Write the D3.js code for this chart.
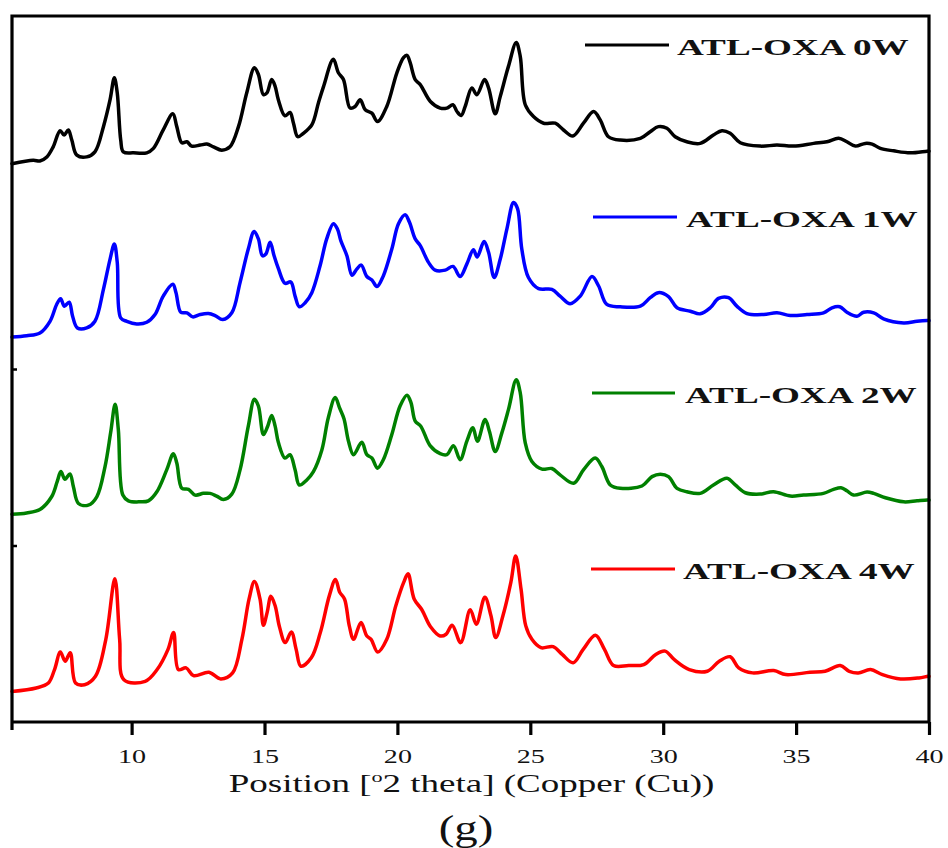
<!DOCTYPE html>
<html>
<head>
<meta charset="utf-8">
<script src="https://cdn.jsdelivr.net/npm/d3@7"></script>
<style>
  html, body { margin: 0; padding: 0; background: #fff; }
  svg { display: block; }
</style>
</head>
<body>
<svg id="chart" width="948" height="848"></svg>
<script>
// XRD patterns of ATL-OXA stored for 0, 1, 2 and 4 weeks: [2θ (deg), intensity (a.u.)]
const pattern0W = [[5.5,1.5],[6.3,5],[6.55,4.3],[6.81,8.3],[7.05,18.3],[7.31,34.3],[7.46,30],[7.62,35],[7.75,25],[7.94,10],[8.31,8.3],[8.62,13.3],[8.94,38.3],[9.19,65],[9.35,86.7],[9.46,71.7],[9.59,25],[9.69,13.3],[10.07,12.3],[10.57,12.3],[10.82,16.7],[11.19,35],[11.55,51],[11.7,38.3],[11.89,22.3],[12.08,23.3],[12.26,19],[12.58,20],[12.83,21],[13.08,18.3],[13.39,15],[13.7,18.3],[14.02,38.3],[14.33,71.7],[14.62,96.7],[14.77,90],[14.96,70],[15.09,71.7],[15.27,85],[15.4,78.3],[15.52,65],[15.77,49],[15.96,52.3],[16.09,41.7],[16.25,28.3],[16.46,31.7],[16.78,40],[17.03,62],[17.22,78],[17.59,105],[17.78,91.7],[17.97,85],[18.22,56.7],[18.41,58.3],[18.6,65],[18.79,55],[19.04,51.7],[19.25,43.3],[19.6,58.3],[19.98,91.7],[20.23,106.7],[20.36,109],[20.48,101.7],[20.67,85],[20.86,80],[21.24,63.3],[21.61,56.7],[21.86,56.7],[22.09,60],[22.24,53.3],[22.4,49.3],[22.55,58.3],[22.8,76.7],[22.99,70],[23.28,85],[23.43,76.7],[23.68,51],[23.87,68.3],[24.18,98.3],[24.47,121.7],[24.62,108.3],[24.81,60],[25.12,48.3],[25.5,41.7],[25.94,41.7],[26.25,35],[26.6,29],[27.0,41.7],[27.38,53.3],[27.63,45],[27.94,28.3],[28.38,25],[29.14,26.7],[29.51,33.3],[29.82,38.3],[30.14,36.7],[30.45,28.3],[30.89,23.3],[31.39,21.7],[31.89,30],[32.21,34.3],[32.52,31.7],[32.9,22.3],[33.65,19],[34.28,20],[34.9,19],[35.66,21.7],[36.16,23.3],[36.6,26.7],[36.91,23.3],[37.23,19],[37.6,21.7],[37.86,21],[38.17,16.7],[38.67,14.3],[39.3,12.3],[39.93,14],[40,14]];

const pattern1W = [[5.5,2.7],[6.05,4],[6.55,6.7],[6.93,18.3],[7.18,35],[7.33,40.7],[7.47,33.3],[7.65,37.3],[7.78,23.3],[7.96,11.7],[8.31,11.7],[8.62,18.3],[8.94,50],[9.19,80],[9.35,95],[9.46,76.7],[9.59,21.7],[9.82,18.3],[10.19,15.7],[10.57,17.3],[10.88,25],[11.19,43.3],[11.55,55],[11.67,46.7],[11.85,27.3],[12.08,26.7],[12.3,22.7],[12.58,25],[12.89,26],[13.14,24],[13.43,20],[13.77,26.7],[14.08,56.7],[14.39,90],[14.61,107.3],[14.77,100],[14.92,83.3],[15.05,85],[15.21,96.7],[15.36,83.3],[15.52,70.7],[15.77,56],[15.99,57.3],[16.15,43.3],[16.31,32.7],[16.53,36.7],[16.78,46.7],[17.09,73.3],[17.34,100],[17.59,115],[17.74,110],[17.87,98.3],[18.1,83.3],[18.29,64],[18.47,70],[18.64,74],[18.85,62.7],[19.04,59.3],[19.23,52.7],[19.47,63.3],[19.79,90],[20.04,115],[20.29,124],[20.45,116.7],[20.67,100],[20.86,93.3],[21.17,76.7],[21.42,69],[21.8,69],[22.09,72.7],[22.36,62.7],[22.61,75],[22.86,89.3],[23.0,82],[23.26,97.3],[23.43,86.7],[23.64,61.7],[23.87,80],[24.12,110],[24.37,136],[24.52,130],[24.68,90],[24.93,61.7],[25.31,50.7],[25.81,50],[26.12,43.3],[26.5,35.7],[26.88,43.3],[27.32,62.7],[27.57,53.3],[27.88,35],[28.38,32.7],[29.14,33.3],[29.51,41.7],[29.82,46.7],[30.2,42.7],[30.52,31.7],[31.02,28.3],[31.39,25.7],[31.77,31.7],[32.08,41],[32.46,41.7],[32.77,33.3],[33.15,26],[33.78,25],[34.28,26.7],[34.78,24],[35.41,25],[36.03,26.7],[36.35,31.7],[36.64,32.7],[36.91,27.3],[37.29,23.3],[37.54,27.3],[37.92,26.7],[38.29,20.7],[39.05,16.7],[39.55,18.3],[39.93,19],[40,19]];

const pattern2W = [[5.5,2],[6.05,3.3],[6.55,6.7],[6.99,19.3],[7.2,34.3],[7.34,44.3],[7.49,36.7],[7.68,42],[7.81,29.3],[8.0,12.7],[8.37,11],[8.69,19.3],[9.0,49.3],[9.21,82.7],[9.38,111],[9.5,86],[9.67,21],[9.88,15.3],[10.32,14.3],[10.63,15.3],[10.95,24.3],[11.32,46],[11.57,62],[11.7,52.7],[11.89,27.7],[12.14,26.7],[12.39,21],[12.7,22.7],[12.95,22.7],[13.2,20],[13.45,16.7],[13.77,22],[14.08,46],[14.39,89.3],[14.62,116],[14.77,109.3],[14.96,81],[15.12,89.3],[15.27,100],[15.4,89.3],[15.52,73.3],[15.77,57.7],[15.96,61],[16.15,46],[16.31,31],[16.59,36],[16.84,44.3],[17.16,66],[17.4,97.7],[17.66,117.7],[17.82,107.7],[17.99,96.7],[18.16,74.3],[18.35,61],[18.66,73.3],[18.85,61],[19.04,57.7],[19.25,47.7],[19.47,56],[19.79,81],[20.1,109.3],[20.36,120],[20.51,112.7],[20.67,94.3],[20.88,89.3],[21.23,70],[21.61,62],[21.86,61],[22.11,70],[22.36,56],[22.61,74.3],[22.84,87.7],[23.01,74.3],[23.3,96],[23.46,84.3],[23.68,64.3],[23.93,82.7],[24.18,106],[24.47,135.3],[24.62,122.7],[24.81,72.7],[25.06,54.3],[25.44,46.7],[25.81,47.3],[26.12,41],[26.63,32.7],[27.0,46],[27.44,57.7],[27.69,49.3],[28.01,31],[28.38,27.7],[29.2,30],[29.58,39.3],[29.89,41.7],[30.2,39.3],[30.52,27.7],[30.89,24.3],[31.39,22.7],[31.89,31],[32.4,37.7],[32.71,31],[33.09,23.3],[33.65,22],[34.15,24.3],[34.78,20],[35.28,21],[36.03,22.7],[36.41,26.7],[36.69,28.3],[36.91,25.3],[37.16,21],[37.67,24],[37.92,22.7],[38.36,18.3],[39.05,14.3],[39.55,15.3],[39.93,16],[40,16]];

const pattern4W = [[5.5,1.3],[6.41,4.7],[6.87,9.7],[7.1,23],[7.32,40.3],[7.5,31.3],[7.69,39.7],[7.89,9.7],[8.23,8],[8.64,16.3],[9.03,53],[9.37,113],[9.55,53],[9.71,13],[10.51,11.3],[10.96,23],[11.37,43],[11.58,59.7],[11.76,23],[12.05,24.7],[12.33,17],[12.91,20.3],[13.35,13.7],[13.8,19.7],[14.15,53],[14.42,93],[14.62,110.3],[14.83,93],[14.96,67],[15.1,79.7],[15.24,95.7],[15.4,86.3],[15.56,65.7],[15.78,49.7],[16.01,60.3],[16.19,43],[16.37,26.3],[16.76,34.7],[17.1,59.7],[17.44,96.3],[17.67,112.3],[17.83,99.7],[18.01,93],[18.19,66.3],[18.35,53],[18.63,69.7],[18.85,56.3],[19.01,53],[19.26,40.3],[19.6,53],[19.94,86.3],[20.24,109.7],[20.4,118],[20.63,93],[20.92,82.3],[21.24,65.7],[21.61,56.3],[21.83,58],[22.06,67],[22.38,49.7],[22.74,82.3],[22.97,68],[23.29,94.7],[23.52,76.3],[23.7,54.7],[23.97,76.3],[24.27,109.7],[24.45,135.7],[24.65,103],[24.83,66.3],[25.06,53],[25.4,44.7],[25.86,45.7],[26.2,38],[26.61,29.7],[26.99,43],[27.45,57],[27.79,43],[28.13,27],[28.7,27],[29.27,28],[29.72,38],[30.07,41.3],[30.41,33],[30.98,23],[31.66,21.3],[32.11,31.3],[32.52,35.7],[32.84,24.7],[33.36,19.7],[34.16,22],[34.61,18],[35.52,20.3],[36.09,21.3],[36.66,27],[37.0,21.3],[37.34,19.7],[37.8,23],[38.25,18],[38.93,13.7],[39.62,14.7],[39.96,16.3],[40,16.3]];

const seriesNames = ["ATL-OXA 0W", "ATL-OXA 1W", "ATL-OXA 2W", "ATL-OXA 4W"];
const seriesPatterns = [pattern0W, pattern1W, pattern2W, pattern4W];
// vertical stacking offset of each pattern (a.u.)
const seriesOffsets = [552, 379, 204, 29];
const xTicks = [10, 15, 20, 25, 30, 35, 40];

const seriesColors = ["#000000", "#0000ff", "#008000", "#ff0000"];

const svg = d3.select("#chart");
const plot = { left: 12, right: 929, top: 16, bottom: 722 };
const stretch = 1.48;   // wide serif lettering used throughout the figure
const serif = "'Liberation Serif', 'Times New Roman', serif";

const x = d3.scaleLinear().domain([5.5, 40]).range([plot.left, plot.right]);
const y = d3.scaleLinear().domain([0, 700]).range([plot.bottom, plot.top]);

// traces
const line = d3.line()
  .x(d => x(d[0]))
  .y(d => y(d[1]))
  .curve(d3.curveCatmullRom.alpha(0.5));

seriesPatterns.forEach((pat, i) => {
  const shifted = pat.map(d => [d[0], d[1] + seriesOffsets[i]]);
  svg.append("path")
    .datum(shifted)
    .attr("fill", "none")
    .attr("stroke", seriesColors[i])
    .attr("stroke-width", 3.5)
    .attr("stroke-linejoin", "round")
    .attr("stroke-linecap", "round")
    .attr("d", line);
});

// frame
svg.append("path")
  .attr("d", `M${plot.left},${plot.bottom + 8}V${plot.top}H${plot.right}V${plot.bottom}H${plot.left}`)
  .attr("fill", "none")
  .attr("stroke", "#000")
  .attr("stroke-width", 3.2);

// x axis
const xAxis = svg.append("g")
  .attr("transform", `translate(0,${plot.bottom})`)
  .call(d3.axisBottom(x).tickValues(xTicks).tickSize(13).tickSizeOuter(0).tickFormat(d3.format("d")));
xAxis.select(".domain").remove();
xAxis.selectAll(".tick line").attr("stroke", "#000").attr("stroke-width", 3.2);
xAxis.selectAll(".tick text")
  .attr("y", 41).attr("dy", 0)
  .attr("fill", "#111")
  .attr("font-family", serif)
  .attr("font-size", 19)
  .attr("transform", `scale(${stretch},1)`);

// y axis: inner ticks only
const yAxis = svg.append("g")
  .attr("transform", `translate(${plot.left},0)`)
  .call(d3.axisLeft(y).tickValues([175, 350]).tickSize(-5).tickFormat(""));
yAxis.select(".domain").remove();
yAxis.selectAll(".tick line").attr("stroke", "#000").attr("stroke-width", 2.5);

// stretched text helper
function wideText(cx, cy, anchor, sx) {
  return svg.append("g")
    .attr("transform", `translate(${cx},${cy}) scale(${sx || stretch},1)`)
    .append("text")
    .attr("text-anchor", anchor)
    .attr("font-family", serif)
    .attr("fill", "#111");
}

// axis title
const title = wideText(471.5, 792, "middle").attr("font-size", 25);
title.append("tspan").text("Position [");
title.append("tspan").attr("font-size", 15).attr("dy", -10).text("o");
title.append("tspan").attr("dy", 10).text("2 theta] (Copper (Cu))");

// panel label
wideText(466, 840, "middle", 1.3).attr("font-size", 36).text("(g)");

// legend entries
const legendRows = [
  { y: 45, x1: 585, x2: 669, tx: 677, ty: 55 },
  { y: 217, x1: 593, x2: 677, tx: 686, ty: 227 },
  { y: 393, x1: 592, x2: 675, tx: 685, ty: 403 },
  { y: 569, x1: 591, x2: 675, tx: 683, ty: 579 }
];
legendRows.forEach((r, i) => {
  svg.append("line")
    .attr("x1", r.x1).attr("x2", r.x2)
    .attr("y1", r.y).attr("y2", r.y)
    .attr("stroke", seriesColors[i])
    .attr("stroke-width", 3);
  wideText(r.tx, r.ty, "start", 1.55)
    .attr("font-size", 24)
    .attr("font-weight", "bold")
    .text(seriesNames[i]);
});
</script>
</body>
</html>
